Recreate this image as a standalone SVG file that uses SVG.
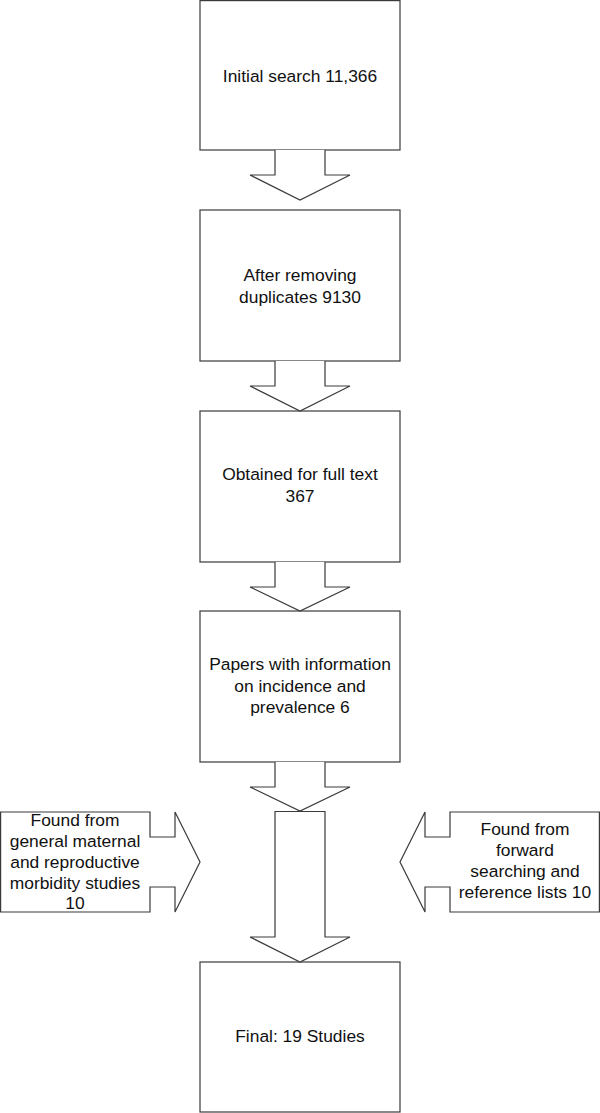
<svg xmlns="http://www.w3.org/2000/svg" width="600" height="1113" viewBox="0 0 600 1113">
<style>
.shape{fill:#fff;stroke:#3a3a3a;stroke-width:1.2;stroke-linejoin:miter}
.t{font-family:"Liberation Sans",Arial,sans-serif;font-size:17.4px;fill:#111;text-anchor:middle}
</style>
<rect width="600" height="1113" fill="#fff"/>
<g id="n1">
<rect class="shape" x="200" y="0.6" width="200" height="149.4"/>
<text class="t" x="300" y="81.5">Initial search 11,366</text>
</g>
<g id="n2">
<rect class="shape" x="200" y="210" width="200" height="151"/>
<text class="t" x="300" y="281">After removing</text>
<text class="t" x="300" y="302.6">duplicates 9130</text>
</g>
<g id="n3">
<rect class="shape" x="200" y="411" width="200" height="151"/>
<text class="t" x="300" y="480.3">Obtained for full text</text>
<text class="t" x="300" y="502.2">367</text>
</g>
<g id="n4">
<rect class="shape" x="200" y="611" width="200" height="151"/>
<text class="t" x="300" y="670">Papers with information</text>
<text class="t" x="300" y="691.5">on incidence and</text>
<text class="t" x="300" y="712.8">prevalence 6</text>
</g>
<g id="n5">
<rect class="shape" x="200" y="962" width="200" height="150"/>
<text class="t" x="300" y="1042">Final: 19 Studies</text>
</g>
<g id="n6">
<polygon class="shape" points="0.6,812 150,812 150,837 175,837 175,812 200,862 175,912 175,887 150,887 150,912 0.6,912"/>
<text class="t" x="75" y="825.6">Found from</text>
<text class="t" x="75" y="846.6">general maternal</text>
<text class="t" x="75" y="867.6">and reproductive</text>
<text class="t" x="75" y="888.6">morbidity studies</text>
<text class="t" x="75" y="908.6">10</text>
</g>
<g id="n7">
<polygon class="shape" points="599.4,812 450,812 450,837 425,837 425,812 400,862 425,912 425,887 450,887 450,912 599.4,912"/>
<text class="t" x="525" y="834.6">Found from</text>
<text class="t" x="525" y="855.8">forward</text>
<text class="t" x="525" y="877.1">searching and</text>
<text class="t" x="525" y="898.4">reference lists 10</text>
</g>
<g id="connectors">
<polyline class="shape" points="275,150 275,175 250,175 300,200 350,175 325,175 325,150"/>
<polyline class="shape" points="275,361 275,386 250,386 300,411 350,386 325,386 325,361"/>
<polyline class="shape" points="275,562 275,587 250,587 300,611 350,587 325,587 325,562"/>
<polyline class="shape" points="275,762 275,787 250,787 300,811 350,787 325,787 325,762"/>
<polygon class="shape" points="275,811.5 325,811.5 325,937 350,937 300,962 250,937 275,937"/>
</g>
</svg>
